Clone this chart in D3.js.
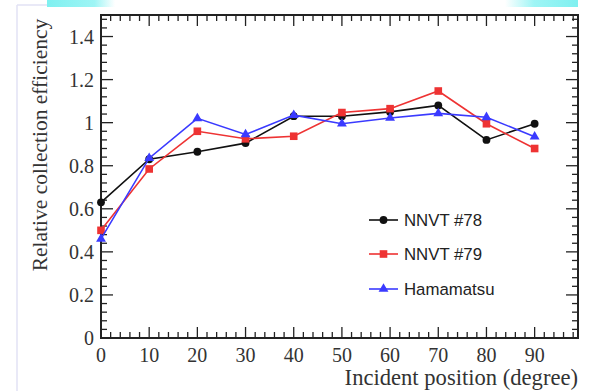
<!DOCTYPE html>
<html lang="en">
<head>
<meta charset="UTF-8">
<title>Relative collection efficiency</title>
<script src="https://cdn.jsdelivr.net/npm/d3@7"></script>
<style>
  body { margin: 0; background: #fff; }
  svg { display: block; }
</style>
</head>
<body>
<svg id="chart" width="591" height="391"></svg>
<script>
// data
var angles = [0, 10, 20, 30, 40, 50, 60, 70, 80, 90];
var nnvt78 = [0.63, 0.83, 0.865, 0.905, 1.03, 1.03, 1.05, 1.08, 0.92, 0.995];
var nnvt79 = [0.50, 0.785, 0.96, 0.925, 0.937, 1.047, 1.065, 1.147, 0.995, 0.88];
var hamamatsu = [0.46, 0.835, 1.02, 0.945, 1.035, 0.995, 1.022, 1.043, 1.025, 0.935];
var seriesNames = ["NNVT #78", "NNVT #79", "Hamamatsu"];
var xTicks = [0, 10, 20, 30, 40, 50, 60, 70, 80, 90];
var yTicks = [0, 0.2, 0.4, 0.6, 0.8, 1, 1.2, 1.4];

var svg = d3.select("#chart");
var padL = 101, padR = 578, padT = 15, padB = 338;

var x = d3.scaleLinear().domain([0, 99]).range([padL, padR]);
var y = d3.scaleLinear().domain([0, 1.5]).range([padB, padT]);

// faint page decorations
svg.append("line").attr("x1", 17).attr("x2", 17).attr("y1", 5).attr("y2", 391)
    .attr("stroke", "#e2e2f4").attr("stroke-width", 1.5);
svg.append("line").attr("x1", 17).attr("x2", 60).attr("y1", 5).attr("y2", 5)
    .attr("stroke", "#e2e2f4").attr("stroke-width", 1.5);
var defs = svg.append("defs");
var g1 = defs.append("linearGradient").attr("id", "cyanL");
g1.append("stop").attr("offset", "0%").attr("stop-color", "#7ff0f0");
g1.append("stop").attr("offset", "70%").attr("stop-color", "#9ef5f5");
g1.append("stop").attr("offset", "100%").attr("stop-color", "#ffffff");
var g2 = defs.append("linearGradient").attr("id", "cyanR");
g2.append("stop").attr("offset", "0%").attr("stop-color", "#ffffff");
g2.append("stop").attr("offset", "40%").attr("stop-color", "#9ef5f5");
g2.append("stop").attr("offset", "100%").attr("stop-color", "#7ff0f0");
svg.append("rect").attr("x", 47).attr("y", 0).attr("width", 68).attr("height", 7).attr("fill", "url(#cyanL)");
svg.append("rect").attr("x", 505).attr("y", 0).attr("width", 73).attr("height", 7).attr("fill", "url(#cyanR)");

// ticks (ROOT style, inward, on all four sides)
var xMinor = d3.range(0, 99.01, 2);
var yMinor = d3.range(0, 1.5001, 0.04);
var tickG = svg.append("g").attr("stroke", "#222").attr("stroke-width", 1.3);
xMinor.forEach(function(v) {
    var len = (Math.round(v) % 10 === 0) ? 11 : 6;
    tickG.append("line").attr("x1", x(v)).attr("x2", x(v)).attr("y1", padB).attr("y2", padB - len);
    tickG.append("line").attr("x1", x(v)).attr("x2", x(v)).attr("y1", padT).attr("y2", padT + len);
});
yMinor.forEach(function(v) {
    var major = Math.abs(v * 5 - Math.round(v * 5)) < 1e-6;
    var len = major ? 12 : 6;
    tickG.append("line").attr("x1", padL).attr("x2", padL + len).attr("y1", y(v)).attr("y2", y(v));
    tickG.append("line").attr("x1", padR).attr("x2", padR - len).attr("y1", y(v)).attr("y2", y(v));
});

// frame
svg.append("rect").attr("x", padL).attr("y", padT).attr("width", padR - padL).attr("height", padB - padT)
    .attr("fill", "none").attr("stroke", "#222").attr("stroke-width", 2);

// tick labels
var labelFont = "'Liberation Serif', 'Times New Roman', serif";
svg.append("g").selectAll("text").data(xTicks).enter().append("text")
    .attr("x", function(d) { return x(d); })
    .attr("y", 362)
    .attr("text-anchor", "middle")
    .attr("font-family", labelFont).attr("font-size", 20).attr("fill", "#333")
    .text(function(d) { return d; });
svg.append("g").selectAll("text").data(yTicks).enter().append("text")
    .attr("x", 94)
    .attr("y", function(d) { return y(d) + 7; })
    .attr("text-anchor", "end")
    .attr("font-family", labelFont).attr("font-size", 20).attr("fill", "#333")
    .text(function(d) { return d; });

// axis titles
svg.append("text").attr("x", 578).attr("y", 385).attr("text-anchor", "end")
    .attr("font-family", labelFont).attr("font-size", 22.6).attr("fill", "#333")
    .text("Incident position (degree)");
svg.append("text").attr("transform", "translate(47,145) rotate(-90)").attr("text-anchor", "middle")
    .attr("font-family", labelFont).attr("font-size", 21.5).attr("fill", "#333")
    .text("Relative collection efficiency");

// series
var series = [
    { name: seriesNames[0], values: nnvt78, color: "#111111", shape: "circle" },
    { name: seriesNames[1], values: nnvt79, color: "#ee3333", shape: "square" },
    { name: seriesNames[2], values: hamamatsu, color: "#3a3aff", shape: "triangle" }
];
var symbolOf = {
    circle: d3.symbol().type(d3.symbolCircle).size(48),
    square: d3.symbol().type(d3.symbolSquare).size(58),
    triangle: d3.symbol().type(d3.symbolTriangle).size(42)
};
var line = d3.line()
    .x(function(d, i) { return x(angles[i]); })
    .y(function(d) { return y(d); });

series.forEach(function(s) {
    svg.append("path").datum(s.values)
        .attr("d", line).attr("fill", "none")
        .attr("stroke", s.color).attr("stroke-width", 1.6);
    svg.append("g").selectAll("path").data(s.values).enter().append("path")
        .attr("d", symbolOf[s.shape])
        .attr("transform", function(d, i) { return "translate(" + x(angles[i]) + "," + y(d) + ")"; })
        .attr("fill", s.color);
});

// legend
var legendY = [220, 254, 289];
series.forEach(function(s, i) {
    var ly = legendY[i];
    svg.append("line").attr("x1", 369).attr("x2", 398).attr("y1", ly).attr("y2", ly)
        .attr("stroke", s.color).attr("stroke-width", 1.6);
    svg.append("path").attr("d", symbolOf[s.shape])
        .attr("transform", "translate(383.5," + ly + ")").attr("fill", s.color);
    svg.append("text").attr("x", 404).attr("y", ly + 6)
        .attr("font-family", "'Liberation Sans', Arial, sans-serif").attr("font-size", 16.8).attr("fill", "#222")
        .text(s.name);
});
</script>
</body>
</html>
